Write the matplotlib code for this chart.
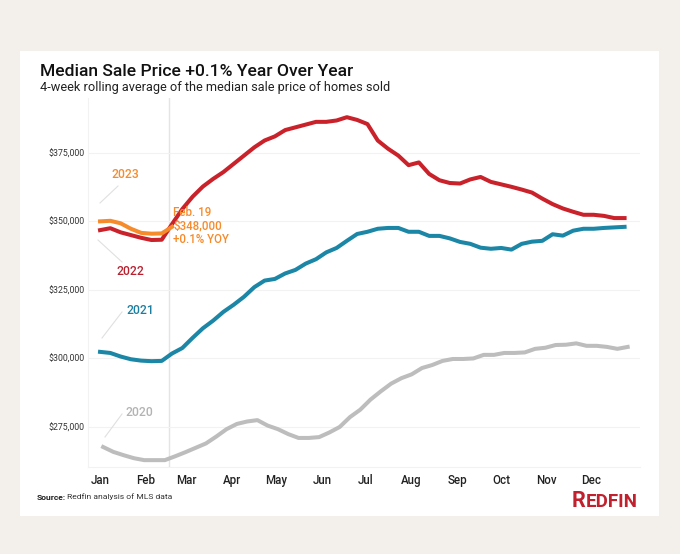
import matplotlib
matplotlib.use('Agg')
import matplotlib.pyplot as plt
from matplotlib.patches import Rectangle
import numpy as np

plt.rcParams['font.family'] = ['Roboto', 'DejaVu Sans']

# weekly 4-week rolling median sale price, in thousands of dollars
weeks = np.arange(52)
price_2020 = [267.7, 265.9, 264.7, 263.6, 262.9, 262.9, 262.9, 264.3, 265.8, 267.4,
              269.0, 271.5, 274.2, 276.1, 277.0, 277.5, 275.5, 274.2, 272.4, 271.0,
              271.0, 271.3, 273.0, 275.0, 278.6, 281.3, 285.0, 288.0, 290.8, 292.8,
              294.2, 296.5, 297.6, 299.1, 299.8, 299.8, 300.0, 301.3, 301.3, 302.0,
              302.0, 302.2, 303.5, 303.9, 304.9, 305.0, 305.5, 304.6, 304.6, 304.2,
              303.5, 304.2]
price_2021 = [302.4, 302.0, 300.7, 299.7, 299.2, 299.0, 299.1, 301.8, 303.8, 307.5,
              311.0, 313.8, 317.0, 319.6, 322.5, 326.0, 328.4, 329.0, 331.0, 332.3,
              334.6, 336.2, 338.7, 340.3, 342.9, 345.4, 346.2, 347.3, 347.6, 347.6,
              346.2, 346.2, 344.7, 344.7, 343.8, 342.5, 341.8, 340.4, 340.0, 340.3,
              339.7, 341.8, 342.6, 342.9, 345.3, 344.8, 346.6, 347.3, 347.3, 347.6,
              347.8, 348.0]
price_2022 = [346.8, 347.5, 346.0, 345.0, 344.0, 343.2, 343.3, 349.0, 354.5, 359.0,
              362.7, 365.5, 368.0, 371.0, 374.0, 377.0, 379.5, 381.0, 383.3, 384.3,
              385.3, 386.3, 386.3, 386.8, 388.0, 387.0, 385.5, 379.5, 376.5, 374.0,
              370.5, 371.5, 367.3, 365.0, 364.0, 363.8, 365.3, 366.2, 364.4, 363.5,
              362.6, 361.6, 360.5, 358.3, 356.3, 354.7, 353.5, 352.4, 352.4, 352.0,
              351.2, 351.2]
price_2023 = [350.0, 350.2, 349.3, 347.3, 345.8, 345.5, 345.6, 348.0]

months = ['Jan', 'Feb', 'Mar', 'Apr', 'May', 'Jun', 'Jul', 'Aug', 'Sep', 'Oct', 'Nov', 'Dec']
month_start_day = [0, 31, 59, 90, 120, 151, 181, 212, 243, 273, 304, 334]
yticks = [275, 300, 325, 350, 375]

C2020 = '#bdbdbd'
C2021 = '#1b86a6'
C2022 = '#c9222b'
C2023 = '#f68b2c'

fig = plt.figure(figsize=(6.8, 5.54), dpi=100)
fig.patch.set_facecolor('#f3f0eb')
fig.patches.append(Rectangle((20/680, 1 - 516/554), 639/680, 465/554,
                             transform=fig.transFigure, facecolor='white',
                             edgecolor='none', zorder=-5))

ax = fig.add_axes([88/680, 1 - 467/554, 552/680, 369/554])
ax.set_facecolor('none')

ax.plot(weeks + 0.3, price_2020, color=C2020, lw=2.9, solid_joinstyle='round', zorder=3)
ax.plot(weeks, price_2021, color=C2021, lw=2.9, solid_joinstyle='round', zorder=3)
ax.plot(weeks, price_2022, color=C2022, lw=2.9, solid_joinstyle='round', zorder=4)
ax.plot(weeks[:len(price_2023)], price_2023, color=C2023, lw=2.9, solid_joinstyle='round', zorder=5)

# Feb 19 marker line
feb19 = len(price_2023) - 1
ax.axvline(feb19 - 0.3, color='#e4e4e4', lw=1.0, zorder=1)

ax.set_xlim(-1.17, 52.5)
ax.set_ylim(260.4, 395)
ax.set_yticks(yticks)
ax.set_yticklabels([f'${v},000' for v in yticks], fontsize=6.3, color='#333333')
ax.set_xticks([d / 7 for d in month_start_day])
ax.set_xticklabels(months, fontsize=8.3, color='#222222', fontweight='medium')
ax.tick_params(length=0)
ax.tick_params(axis='x', pad=5)
ax.tick_params(axis='y', pad=2.5)
ax.grid(axis='y', color='#f2f2f2', lw=0.8, zorder=0)
for s in ['top', 'right']:
    ax.spines[s].set_visible(False)
for s in ['left', 'bottom']:
    ax.spines[s].set_color('#f2f2f2')
    ax.spines[s].set_linewidth(0.8)

# series labels with leader lines
labels = [
    ('2023', C2023, (125, 174), (100, 203), (118, 186)),
    ('2022', '#b8202e', (130, 271), (98, 240), (122, 262)),
    ('2021', '#1b7ea0', (140, 310), (102, 338), (122, 312)),
    ('2020', '#b3b3b3', (139, 412), (105, 437), (122, 414)),
]
for txt, col, tp, p0, p1 in labels:
    fig.text(tp[0] / 680, 1 - tp[1] / 554, txt, color=col, fontsize=8.7,
             fontweight='medium', ha='center', va='center')
    fig.add_artist(plt.Line2D([p0[0] / 680, p1[0] / 680], [1 - p0[1] / 554, 1 - p1[1] / 554],
                              transform=fig.transFigure, color='#e0e0e0', lw=0.8))

fig.text(173 / 680, 1 - 226 / 554, 'Feb. 19\n$348,000\n+0.1% YOY', color=C2023,
         fontsize=8.3, fontweight='medium', ha='left', va='center', linespacing=1.05)

fig.text(40 / 680, 1 - 71 / 554, 'Median Sale Price +0.1% Year Over Year',
         fontsize=12.6, fontweight='medium', color='#111111', ha='left', va='center')
fig.text(40 / 680, 1 - 88 / 554, '4-week rolling average of the median sale price of homes sold',
         fontsize=9.2, color='#222222', ha='left', va='center')

fig.text(37 / 680, 1 - 497 / 554, 'Source:', fontsize=6.1, fontweight='bold',
         color='#222222', ha='left', va='center')
fig.text(67 / 680, 1 - 497 / 554, 'Redfin analysis of MLS data', fontsize=6.1,
         color='#333333', ha='left', va='center')

fig.text(572 / 680, 1 - 507 / 554, 'R', fontsize=15.5, fontweight='bold',
         color='#c1212e', ha='left', va='baseline')
fig.text(586 / 680, 1 - 507 / 554, 'EDFIN', fontsize=13.5, fontweight='bold',
         color='#c1212e', ha='left', va='baseline')

plt.savefig('out.png', dpi=100, facecolor=fig.get_facecolor())
plt.close()
